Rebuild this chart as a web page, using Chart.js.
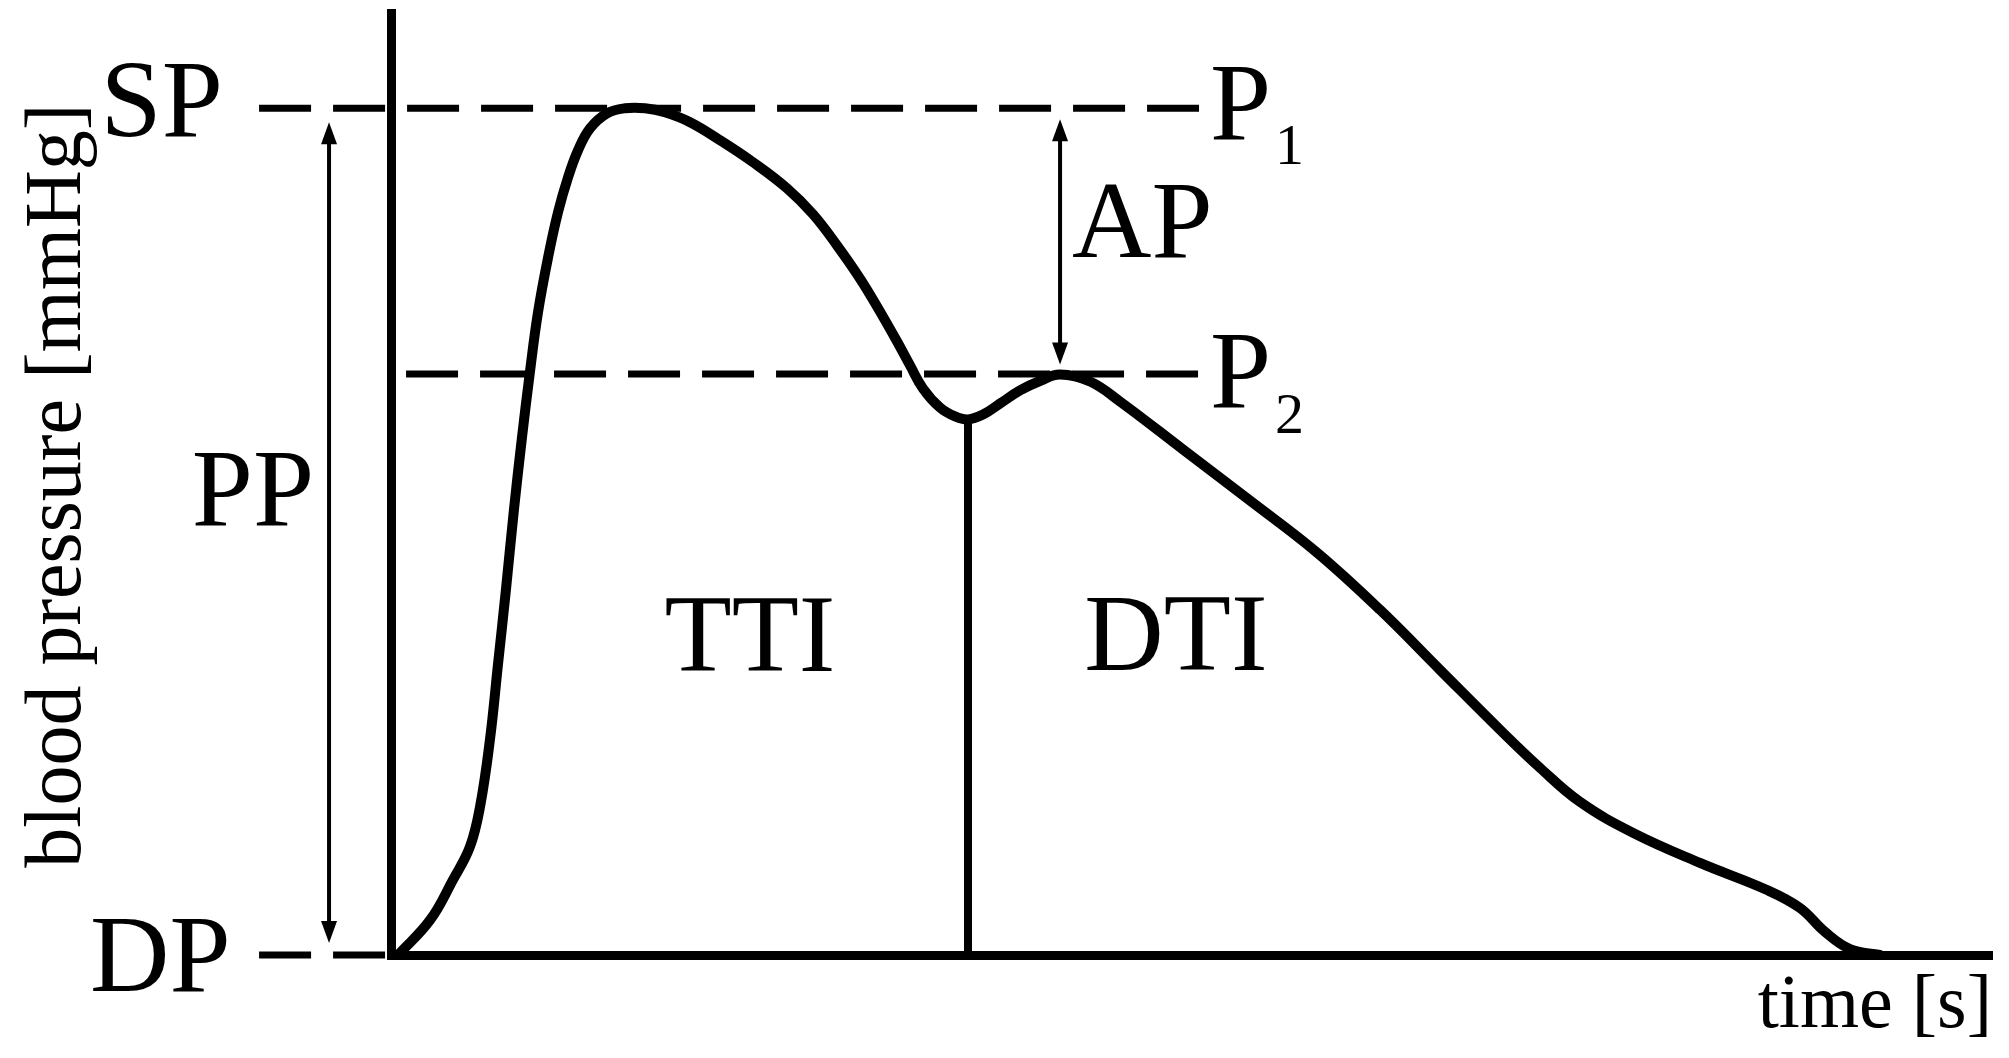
<!DOCTYPE html>
<html>
<head>
<meta charset="utf-8">
<title>Blood pressure waveform</title>
<script src="https://cdn.jsdelivr.net/npm/chart.js@4.4.1/dist/chart.umd.min.js"></script>
<style>
  html, body { margin: 0; padding: 0; background: #fff; }
  #box { width: 2009px; height: 1058px; }
</style>
</head>
<body>
<div id="box"><canvas id="bpChart" width="2009" height="1058"></canvas></div>
<script>
// pressure wave (time in s, pressure in mmHg)
const timeS = [0.0044, 0.0244, 0.0387, 0.0493, 0.0556, 0.0618, 0.0668, 0.0718, 0.0768, 0.0818,
               0.0868, 0.0918, 0.0981, 0.1043, 0.1106, 0.1168, 0.1243, 0.1349, 0.1462, 0.1587,
               0.1711, 0.1868, 0.2055, 0.2261, 0.2473, 0.2636, 0.2786, 0.2929, 0.3054, 0.3161,
               0.3242, 0.3323, 0.3429, 0.3523, 0.3604, 0.3698, 0.3804, 0.3929, 0.4060, 0.4179,
               0.4366, 0.4553, 0.4947, 0.5365, 0.5784, 0.6177, 0.6552, 0.6927, 0.7177, 0.7427,
               0.7758, 0.8176, 0.8595, 0.8801, 0.8957, 0.9113, 0.9300];
const pressure = [80.00, 81.65, 83.55, 85.11, 87.00, 90.17, 93.71, 97.26, 101.04, 104.44,
                  107.56, 110.35, 112.95, 115.08, 116.74, 118.01, 119.05, 119.76, 120.00, 120.00,
                  119.81, 119.34, 118.49, 117.45, 116.22, 114.99, 113.52, 111.96, 110.40, 108.98,
                  107.85, 106.76, 105.86, 105.44, 105.30, 105.53, 106.05, 106.67, 107.14, 107.42,
                  107.09, 106.15, 103.88, 101.47, 99.01, 96.31, 93.47, 90.64, 88.84, 87.23,
                  85.77, 84.35, 83.07, 82.22, 81.09, 80.28, 80.00];

// reference levels
const DP = 80, SP = 120, P2 = 107.45;
const notchTime = 0.3604, notchPressure = 105.3;
const guideStart = [-0.0824, 0.0094, -0.0824];   // SP, P2, DP guides
const guideEnd = [0.5047, 0.5047, -0.003];
const guideLevel = [SP, P2, DP];

// double arrows PP and AP
const arrowTime = [-0.0387, 0.4179];
const arrowTop = [119.34, 119.48];
const arrowBottom = [80.57, 107.9];

// text labels
const labelText = ['SP', 'DP', 'PP', 'AP', 'P', 'P', 'TTI', 'DTI'];
const labelTime = [-0.105, -0.1002, -0.048, 0.4254, 0.5116, 0.5116, 0.2242, 0.4903];
const labelPressure = [118.68, 78.3, 100.33, 112.95, 118.53, 105.91, 93.43, 93.47];
const labelAlign = ['right', 'right', 'right', 'left', 'left', 'left', 'center', 'center'];
const subText = ['1', '2'];
const subTime = [0.5522, 0.5522];
const subPressure = [117.35, 104.68];

const yTitle = 'blood pressure [mmHg]';
const xTitle = 'time [s]';

const SERIF = '"Liberation Serif", "Times New Roman", serif';

const guideSets = guideLevel.map((lv, i) => ({
    data: [{ x: guideStart[i], y: lv }, { x: guideEnd[i], y: lv }],
    showLine: true,
    borderColor: '#000',
    borderWidth: 7,
    borderDash: [52, 22],
    pointRadius: 0,
    tension: 0,
    clip: false
}));

function drawArrow(ctx, x, yTop, yBot) {
    const head = 22, half = 8;
    ctx.lineWidth = 4;
    ctx.beginPath();
    ctx.moveTo(x, yTop + head - 4);
    ctx.lineTo(x, yBot - head + 4);
    ctx.stroke();
    ctx.beginPath();
    ctx.moveTo(x, yTop);
    ctx.lineTo(x - half, yTop + head);
    ctx.lineTo(x + half, yTop + head);
    ctx.closePath();
    ctx.fill();
    ctx.beginPath();
    ctx.moveTo(x, yBot);
    ctx.lineTo(x - half, yBot - head);
    ctx.lineTo(x + half, yBot - head);
    ctx.closePath();
    ctx.fill();
}

const annotate = {
    id: 'annotate',
    afterDatasetsDraw(chart) {
        const { ctx } = chart;
        const xs = chart.scales.x, ys = chart.scales.y;
        ctx.save();
        ctx.fillStyle = '#000';
        ctx.strokeStyle = '#000';

        arrowTime.forEach((t, i) => {
            drawArrow(ctx, xs.getPixelForValue(t), ys.getPixelForValue(arrowTop[i]), ys.getPixelForValue(arrowBottom[i]));
        });

        ctx.textBaseline = 'alphabetic';
        ctx.font = '110px ' + SERIF;
        labelText.forEach((txt, i) => {
            ctx.textAlign = labelAlign[i];
            ctx.fillText(txt, xs.getPixelForValue(labelTime[i]), ys.getPixelForValue(labelPressure[i]));
        });
        ctx.font = '58px ' + SERIF;
        ctx.textAlign = 'left';
        subText.forEach((txt, i) => {
            ctx.fillText(txt, xs.getPixelForValue(subTime[i]), ys.getPixelForValue(subPressure[i]));
        });

        // axis titles
        ctx.font = '76px ' + SERIF;
        ctx.textAlign = 'right';
        ctx.fillText(xTitle, xs.getPixelForValue(1.0), ys.getPixelForValue(76.6));

        ctx.font = '80px ' + SERIF;
        ctx.textAlign = 'center';
        ctx.translate(xs.getPixelForValue(-0.1943), ys.getPixelForValue(102.17));
        ctx.rotate(-Math.PI / 2);
        ctx.fillText(yTitle, 0, 0);
        ctx.restore();
    }
};

const ctx = document.getElementById('bpChart').getContext('2d');
const bpChart = new Chart(ctx, {
    type: 'scatter',
    data: {
        datasets: [
            {
                data: timeS.map((t, i) => ({ x: t, y: pressure[i] })),
                showLine: true,
                borderColor: '#000',
                borderWidth: 10,
                borderJoinStyle: 'round',
                borderCapStyle: 'round',
                pointRadius: 0,
                tension: 0.4
            },
            {
                data: [{ x: notchTime, y: DP }, { x: notchTime, y: notchPressure }],
                showLine: true,
                borderColor: '#000',
                borderWidth: 8,
                pointRadius: 0,
                tension: 0
            },
            ...guideSets
        ]
    },
    options: {
        responsive: false,
        animation: false,
        devicePixelRatio: 1,
        layout: { padding: { left: 391, right: 17, top: 13, bottom: 103 } },
        plugins: {
            legend: { display: false },
            tooltip: { enabled: false }
        },
        scales: {
            x: {
                type: 'linear', min: 0, max: 1.0,
                grid: { display: false, drawTicks: false },
                ticks: { display: false },
                border: { display: true, color: '#000', width: 9 }
            },
            y: {
                type: 'linear', min: 80, max: 124.5,
                grid: { display: false, drawTicks: false },
                ticks: { display: false },
                border: { display: true, color: '#000', width: 9 }
            }
        }
    },
    plugins: [annotate]
});
</script>
</body>
</html>
